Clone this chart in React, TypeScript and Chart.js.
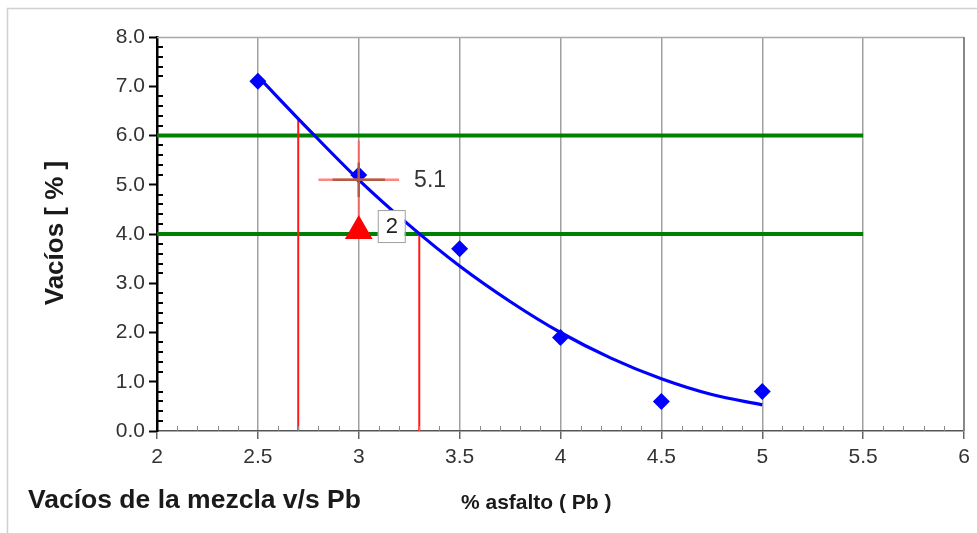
import React, { useEffect, useRef } from "react";
import { Chart, registerables } from "chart.js";

Chart.register(...registerables);

// ---- data ----
const pbValues = [2.5, 3.0, 3.5, 4.0, 4.5, 5.0];
const voidValues = [7.1, 5.2, 3.7, 1.9, 0.6, 0.8];
const curveX = [2.5, 2.75, 3.0, 3.25, 3.5, 3.75, 4.0, 4.25, 4.5, 4.75, 5.0];
const curveY = [7.2, 6.13, 5.1, 4.18, 3.35, 2.63, 2.0, 1.48, 1.06, 0.74, 0.53];
const limitVoids = [6.0, 4.0];
const limitPbRange = [2.0, 5.5];
const limitPb = [2.7, 3.3];
const limitPbVoids = [6.34, 4.0];
const optimumPb = 3.0;
const optimumVoids = 5.1;
const optimumLabel = "5.1";
const crossHalf = [0.2, 0.8];
const crossInnerHalf = [0.13, 0.35];
const markerPoint = [3.0, 4.06];
const markerLabel = "2";
const xTickRange = [2, 6, 0.5];
const yTickRange = [0, 8, 1];
const chartTitle = "Vacíos de la mezcla v/s Pb";
const xTitle = "% asfalto ( Pb )";
const yTitle = "Vacíos [ % ]";

const FONT = "Arial, 'Liberation Sans', sans-serif";

const seg = (x0: number, y0: number, x1: number, y1: number) => [
  { x: x0, y: y0 },
  { x: x1, y: y1 },
];

const decorPlugin = {
  id: "decor",
  beforeDraw(chart: any) {
    const ctx = chart.ctx;
    ctx.save();
    ctx.strokeStyle = "#d0d0d0";
    ctx.lineWidth = 1.5;
    ctx.beginPath();
    ctx.moveTo(7.5, 533);
    ctx.lineTo(7.5, 8.5);
    ctx.lineTo(977, 8.5);
    ctx.stroke();
    ctx.restore();
  },
  afterDraw(chart: any) {
    const ctx = chart.ctx;
    const xs = chart.scales.x;
    const ys = chart.scales.y;
    const area = chart.chartArea;
    ctx.save();
    // top border of plot
    ctx.strokeStyle = "#a8a8a8";
    ctx.lineWidth = 1.5;
    ctx.beginPath();
    ctx.moveTo(area.left, area.top + 0.5);
    ctx.lineTo(area.right, area.top + 0.5);
    ctx.stroke();
    // right border
    ctx.strokeStyle = "#888";
    ctx.lineWidth = 2;
    ctx.beginPath();
    ctx.moveTo(area.right, area.top);
    ctx.lineTo(area.right, area.bottom);
    ctx.stroke();
    // minor ticks y
    ctx.strokeStyle = "#000";
    ctx.lineWidth = 2;
    for (let i = 1; i < 40; i++) {
      if (i % 5 === 0) continue;
      const py = Math.round(ys.getPixelForValue(i * 0.2));
      ctx.beginPath();
      ctx.moveTo(area.left, py);
      ctx.lineTo(area.left + 6, py);
      ctx.stroke();
    }
    // minor ticks x
    ctx.strokeStyle = "#888";
    ctx.lineWidth = 1;
    for (let i = 1; i < 40; i++) {
      if (i % 5 === 0) continue;
      const px = Math.round(xs.getPixelForValue(2 + i * 0.1)) + 0.5;
      ctx.beginPath();
      ctx.moveTo(px, area.bottom);
      ctx.lineTo(px, area.bottom - 5);
      ctx.stroke();
    }
    // optimum label
    ctx.fillStyle = "#333";
    ctx.font = `23px ${FONT}`;
    ctx.textBaseline = "middle";
    ctx.textAlign = "left";
    ctx.fillText(
      optimumLabel,
      xs.getPixelForValue(optimumPb + crossHalf[0]) + 15,
      ys.getPixelForValue(optimumVoids) + 1
    );
    // marker label box
    const bx = xs.getPixelForValue(markerPoint[0]) + 19;
    const by = ys.getPixelForValue(markerPoint[1]) - 21;
    ctx.fillStyle = "#fff";
    ctx.fillRect(bx, by, 27, 32);
    ctx.strokeStyle = "#a0a0a0";
    ctx.lineWidth = 1;
    ctx.strokeRect(bx + 0.5, by + 0.5, 27, 32);
    ctx.fillStyle = "#222";
    ctx.textAlign = "center";
    ctx.font = `22px ${FONT}`;
    ctx.fillText(markerLabel, bx + 14, by + 17);
    // titles
    ctx.fillStyle = "#1a1a1a";
    ctx.font = `bold 26.5px ${FONT}`;
    ctx.textAlign = "left";
    ctx.fillText(chartTitle, 28, 501);
    ctx.font = `bold 21px ${FONT}`;
    ctx.fillText(xTitle, 461, 503);
    ctx.save();
    ctx.translate(56, 233);
    ctx.rotate(-Math.PI / 2);
    ctx.textAlign = "center";
    ctx.font = `bold 26px ${FONT}`;
    ctx.fillText(yTitle, 0, 0);
    ctx.restore();
    ctx.restore();
  },
};

export default function App() {
  const ref = useRef<HTMLCanvasElement | null>(null);
  useEffect(() => {
    if (!ref.current) return;
    const datasets: any[] = [];
    datasets.push({
      data: [{ x: markerPoint[0], y: markerPoint[1] }],
      pointStyle: "triangle",
      pointRadius: 16,
      backgroundColor: "#ff0000",
      borderColor: "#ff0000",
      borderWidth: 0,
      showLine: false,
      order: 1,
    });
    datasets.push({
      data: seg(optimumPb - crossInnerHalf[0], optimumVoids, optimumPb + crossInnerHalf[0], optimumVoids),
      borderColor: "rgba(170,90,60,0.9)",
      borderWidth: 2.5,
      pointRadius: 0,
      showLine: true,
      order: 2,
    });
    datasets.push({
      data: seg(optimumPb, optimumVoids + crossInnerHalf[1], optimumPb, optimumVoids - crossInnerHalf[1]),
      borderColor: "rgba(170,90,60,0.9)",
      borderWidth: 2.5,
      pointRadius: 0,
      showLine: true,
      order: 2,
    });
    datasets.push({
      data: seg(optimumPb - crossHalf[0], optimumVoids, optimumPb + crossHalf[0], optimumVoids),
      borderColor: "rgba(255,110,110,0.85)",
      borderWidth: 2.5,
      pointRadius: 0,
      showLine: true,
      order: 3,
    });
    datasets.push({
      data: seg(optimumPb, optimumVoids + crossHalf[1], optimumPb, markerPoint[1]),
      borderColor: "rgba(255,90,90,0.85)",
      borderWidth: 2,
      pointRadius: 0,
      showLine: true,
      order: 3,
    });
    datasets.push({
      data: pbValues.map((x, i) => ({ x, y: voidValues[i] })),
      pointStyle: "rectRot",
      pointRadius: 8.5,
      backgroundColor: "#0000ff",
      borderColor: "#0000ff",
      borderWidth: 0,
      showLine: false,
      order: 4,
    });
    datasets.push({
      data: curveX.map((x, i) => ({ x, y: curveY[i] })),
      borderColor: "#0000ff",
      borderWidth: 3.2,
      pointRadius: 0,
      showLine: true,
      cubicInterpolationMode: "monotone",
      order: 5,
    });
    limitPb.forEach((p, i) => {
      datasets.push({
        data: seg(p, 0, p, limitPbVoids[i]),
        borderColor: "#ff1a1a",
        borderWidth: 2,
        pointRadius: 0,
        showLine: true,
        order: 6,
      });
    });
    limitVoids.forEach((v) => {
      datasets.push({
        data: seg(limitPbRange[0], v, limitPbRange[1], v),
        borderColor: "#008000",
        borderWidth: 4,
        pointRadius: 0,
        showLine: true,
        order: 7,
      });
    });

    const chart = new Chart(ref.current, {
      type: "scatter",
      data: { datasets },
      options: {
        animation: false,
        responsive: false,
        events: [],
        layout: { autoPadding: false, padding: { left: 0, top: 37, right: 13, bottom: 0 } },
        plugins: {
          legend: { display: false },
          tooltip: { enabled: false },
          title: { display: false },
        },
        scales: {
          x: {
            type: "linear",
            min: xTickRange[0],
            max: xTickRange[1],
            afterFit: (s: any) => {
              s.height = 102;
              s.paddingRight = 0;
              s.paddingLeft = 0;
            },
            ticks: {
              stepSize: xTickRange[2],
              color: "#333",
              font: { family: FONT, size: 21 },
              padding: 6,
              callback: (v: any) => String(v),
            },
            grid: {
              color: "#a0a0a0",
              lineWidth: 1.5,
              tickLength: 8,
              tickColor: "#666",
              tickWidth: 1.5,
            },
            border: { color: "#555", width: 1.5 },
          },
          y: {
            type: "linear",
            min: yTickRange[0],
            max: yTickRange[1],
            afterFit: (s: any) => {
              s.width = 157;
              s.paddingTop = 0;
              s.paddingBottom = 0;
            },
            ticks: {
              stepSize: yTickRange[2],
              color: "#333",
              font: { family: FONT, size: 21 },
              padding: 4,
              callback: (v: any) => Number(v).toFixed(1),
            },
            grid: {
              drawOnChartArea: false,
              tickLength: 8,
              tickColor: "#000",
              tickWidth: 2,
            },
            border: { color: "#000", width: 2.5 },
          },
        },
      },
      plugins: [decorPlugin],
    } as any);
    return () => chart.destroy();
  }, []);
  return (
    <div style={{ position: "absolute", left: 0, top: 0, width: 977, height: 533, background: "#fff" }}>
      <canvas ref={ref} width={977} height={533} style={{ width: 977, height: 533, display: "block" }} />
    </div>
  );
}
